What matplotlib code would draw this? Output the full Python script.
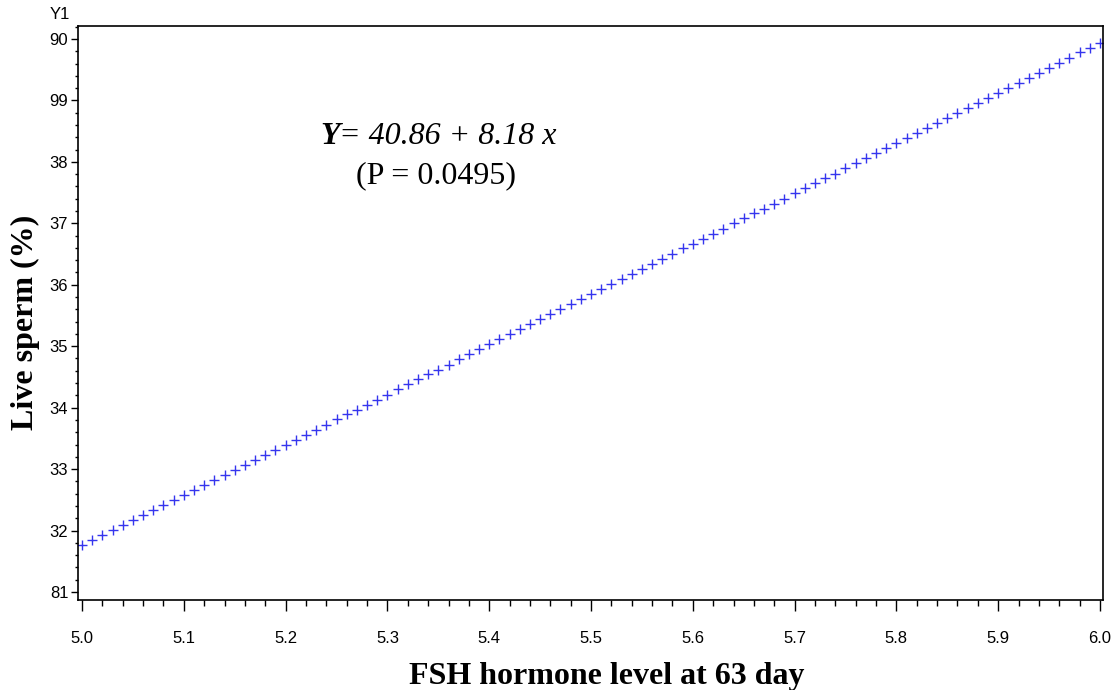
import matplotlib
matplotlib.use("Agg")
import matplotlib.pyplot as plt
from matplotlib.ticker import MultipleLocator
from matplotlib.transforms import offset_copy

# FSH level (x) and predicted live sperm % (y)
fsh = [5.00, 5.01, 5.02, 5.03, 5.04, 5.05, 5.06, 5.07, 5.08, 5.09,
       5.10, 5.11, 5.12, 5.13, 5.14, 5.15, 5.16, 5.17, 5.18, 5.19,
       5.20, 5.21, 5.22, 5.23, 5.24, 5.25, 5.26, 5.27, 5.28, 5.29,
       5.30, 5.31, 5.32, 5.33, 5.34, 5.35, 5.36, 5.37, 5.38, 5.39,
       5.40, 5.41, 5.42, 5.43, 5.44, 5.45, 5.46, 5.47, 5.48, 5.49,
       5.50, 5.51, 5.52, 5.53, 5.54, 5.55, 5.56, 5.57, 5.58, 5.59,
       5.60, 5.61, 5.62, 5.63, 5.64, 5.65, 5.66, 5.67, 5.68, 5.69,
       5.70, 5.71, 5.72, 5.73, 5.74, 5.75, 5.76, 5.77, 5.78, 5.79,
       5.80, 5.81, 5.82, 5.83, 5.84, 5.85, 5.86, 5.87, 5.88, 5.89,
       5.90, 5.91, 5.92, 5.93, 5.94, 5.95, 5.96, 5.97, 5.98, 5.99,
       6.00]
live = [81.76, 81.84, 81.92, 82.01, 82.09, 82.17, 82.25, 82.33, 82.41, 82.50,
        82.58, 82.66, 82.74, 82.82, 82.91, 82.99, 83.07, 83.15, 83.23, 83.31,
        83.40, 83.48, 83.56, 83.64, 83.72, 83.81, 83.89, 83.97, 84.05, 84.13,
        84.21, 84.30, 84.38, 84.46, 84.54, 84.62, 84.70, 84.79, 84.87, 84.95,
        85.03, 85.11, 85.20, 85.28, 85.36, 85.44, 85.52, 85.60, 85.69, 85.77,
        85.85, 85.93, 86.01, 86.10, 86.18, 86.26, 86.34, 86.42, 86.50, 86.59,
        86.67, 86.75, 86.83, 86.91, 87.00, 87.08, 87.16, 87.24, 87.32, 87.40,
        87.49, 87.57, 87.65, 87.73, 87.81, 87.90, 87.98, 88.06, 88.14, 88.22,
        88.30, 88.39, 88.47, 88.55, 88.63, 88.71, 88.79, 88.88, 88.96, 89.04,
        89.12, 89.20, 89.29, 89.37, 89.45, 89.53, 89.61, 89.69, 89.78, 89.86,
        89.94]

xticks = [5.0, 5.1, 5.2, 5.3, 5.4, 5.5, 5.6, 5.7, 5.8, 5.9, 6.0]
yticks = [81, 82, 83, 84, 85, 86, 87, 88, 89, 90]
# labels as they appear (clipped) in the original
ytick_labels = ["81", "32", "33", "34", "35", "36", "37", "38", "99", "90"]

tick_font = ["Liberation Sans Narrow", "Liberation Sans", "DejaVu Sans"]
serif = ["Liberation Serif", "DejaVu Serif"]

fig = plt.figure(figsize=(11.11, 6.90), dpi=100)
ax = fig.add_axes([0.0702, 0.1304, 0.9226, 0.8319])

ax.plot(fsh, live, linestyle="none", marker="+", markersize=7,
        markeredgewidth=1.0, color="#3535ee")

ax.set_xlim(4.996, 6.003)
ax.set_ylim(80.87, 90.21)
ax.set_xticks(xticks)
ax.set_xticklabels(["%.1f" % t for t in xticks], family=tick_font, fontsize=12)
ax.set_yticks(yticks)
ax.set_yticklabels(ytick_labels, family=tick_font, fontsize=12)
ax.xaxis.set_minor_locator(MultipleLocator(0.02))
ax.yaxis.set_minor_locator(MultipleLocator(0.2))
ax.tick_params(axis="x", which="major", direction="out", length=8, width=1, pad=14)
ax.tick_params(axis="x", which="minor", direction="out", length=4, width=1)
ax.tick_params(axis="y", which="major", direction="out", length=5, width=1, pad=2)
ax.tick_params(axis="y", which="minor", direction="out", length=2.5, width=1)
for s in ax.spines.values():
    s.set_linewidth(1.2)

fig.text(0.054, 0.979, "Y1", family=tick_font, fontsize=12, ha="center", va="center")

fig.text(0.546, 0.009, "FSH hormone level at 63 day", family=serif,
         fontsize=23, fontweight="bold", ha="center", va="baseline")
fig.text(0.023, 0.533, "Live sperm (%)", family=serif, fontsize=23,
         fontweight="bold", rotation=90, ha="center", va="center")

# regression equation: bold italic Y followed by italic text
ty = ax.text(0.236, 0.807, "Y", transform=ax.transAxes, family=serif,
             fontsize=23, fontweight="bold", style="italic", ha="left", va="center")
fig.canvas.draw()
bb = ty.get_window_extent()
trans = offset_copy(ax.transAxes, fig=fig, x=bb.width * 72 / fig.dpi, y=0, units="points")
ax.text(0.236, 0.807, "= 40.86 + 8.18 x", transform=trans, family=serif,
        fontsize=23, style="italic", ha="left", va="center")
ax.text(0.349, 0.740, "(P = 0.0495)", transform=ax.transAxes, family=serif,
        fontsize=23, ha="center", va="center")

fig.savefig("out.png", dpi=100)
